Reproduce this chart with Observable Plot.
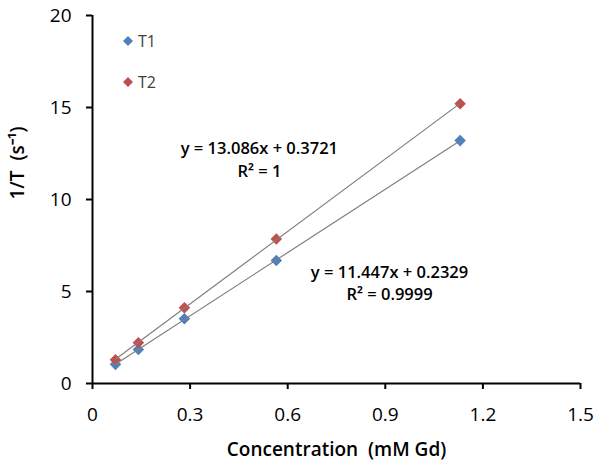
<!DOCTYPE html>
<html><head><meta charset="utf-8">
<script src="https://cdn.jsdelivr.net/npm/d3@7"></script>
<script src="https://cdn.jsdelivr.net/npm/@observablehq/plot@0.6"></script>
<style>
body{margin:0;background:#fff;}
#chart{position:relative;width:601px;height:467px;font-family:"Open Sans",sans-serif;}
#chart svg.plot{position:absolute;left:0;top:0;font-family:"Open Sans",sans-serif;}
.legend{position:absolute;left:122px;top:30px;}
.legend div{height:41px;display:flex;align-items:flex-start;font-size:16px;color:#404040;line-height:22px;}
.legend svg{margin-right:4px;margin-top:5px;}
</style></head><body><div id="chart"></div><script>
const concentration = [0.0706, 0.141, 0.2825, 0.565, 1.13];
const t1Values = [1.04, 1.85, 3.52, 6.68, 13.2];
const t2Values = [1.29, 2.22, 4.12, 7.85, 15.2];
const seriesNames = ["T1", "T2"];
const seriesColors = ["#4F81BD", "#C0504D"];
const xTicks = [0, 0.3, 0.6, 0.9, 1.2, 1.5];
const yTicks = [0, 5, 10, 15, 20];
const xTitle = "Concentration  (mM Gd)";
const yTitle = "1/T  (s⁻¹)";
const equationLabels = ["y = 13.086x + 0.3721\nR² = 1", "y = 11.447x + 0.2329\nR² = 0.9999"];

const points = [];
[t1Values, t2Values].forEach((vals, i) => vals.forEach((v, j) => points.push({series: seriesNames[i], x: concentration[j], y: v})));

// least-squares trend lines from the data
function fit(xs, ys) {
  const mx = d3.mean(xs), my = d3.mean(ys);
  const b = d3.sum(xs, (x, i) => (x - mx) * (ys[i] - my)) / d3.sum(xs, x => (x - mx) ** 2);
  return {b, a: my - b * mx};
}
const trend = [];
[t1Values, t2Values].forEach((vals, i) => {
  const {a, b} = fit(concentration, vals);
  d3.extent(concentration).forEach(x => trend.push({series: seriesNames[i], x, y: a + b * x}));
});

const chart = Plot.plot({
  width: 601, height: 467,
  marginLeft: 92, marginRight: 21, marginTop: 15, marginBottom: 84,
  style: {background: "#fff", color: "#000"},
  x: {domain: [0, 1.5]},
  y: {domain: [0, 20]},
  color: {domain: seriesNames, range: seriesColors},
  marks: [
    Plot.axisX({ticks: xTicks, tickFormat: d3.format("~g"), tickSize: 6, tickPadding: 18, strokeWidth: 2, fontSize: 19, label: null}),
    Plot.axisY({ticks: yTicks, tickSize: 6, tickPadding: 15, strokeWidth: 2, fontSize: 19, label: null}),
    Plot.ruleX([0], {stroke: "#000", strokeWidth: 2}),
    Plot.ruleY([0], {stroke: "#000", strokeWidth: 2}),
    Plot.text([xTitle], {frameAnchor: "bottom", dy: 66, lineAnchor: "middle", fontSize: 19, fontWeight: 600, fill: "#000"}),
    Plot.text([yTitle], {frameAnchor: "left", rotate: -90, dx: -75, fontSize: 19, fontWeight: 600, fill: "#000"}),
    Plot.dot(points, {x: "x", y: "y", fill: "series", stroke: "none", symbol: "diamond2", r: 5.2}),
    Plot.line(trend, {x: "x", y: "y", z: "series", stroke: "#7f7f7f", strokeWidth: 1.2}),
    Plot.text(equationLabels, {x: [0.513, 0.913], y: [12.23, 5.54], text: d => d, fontSize: 16.5, fontWeight: 600, lineHeight: 1.35, fill: "#000"})
  ]
});
chart.classList.add("plot");
const root = document.getElementById("chart");
root.appendChild(chart);

const legend = document.createElement("div");
legend.className = "legend";
seriesNames.forEach((name, i) => {
  const row = document.createElement("div");
  row.innerHTML = `<svg width="12" height="12" viewBox="-6 -6 12 12"><path d="M0,-5L5,0L0,5L-5,0Z" fill="${seriesColors[i]}"/></svg><span>${name}</span>`;
  legend.appendChild(row);
});
root.appendChild(legend);
</script></body></html>
